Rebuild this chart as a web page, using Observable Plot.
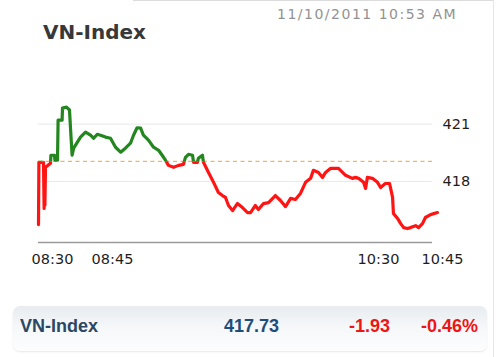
<!DOCTYPE html>
<html><head><meta charset="utf-8">
<script src="https://cdn.jsdelivr.net/npm/d3@7"></script>
<script src="https://cdn.jsdelivr.net/npm/@observablehq/plot@0.6"></script>
<style>
html,body{margin:0;padding:0;background:#fff;}
#wrap{position:relative;width:500px;height:357px;overflow:hidden;background:#fff;}
#chart{position:absolute;left:0;top:0;}
.title{position:absolute;left:43px;top:22px;font:bold 20px "DejaVu Sans";line-height:20px;color:#383838;white-space:nowrap;}
.stamp{position:absolute;left:277px;top:7px;font:14px "DejaVu Sans";line-height:14px;letter-spacing:1.5px;color:#929292;white-space:nowrap;}
.topline{position:absolute;left:133px;top:0;width:360px;height:1px;background:#dcdcdc}
.rightline{position:absolute;left:493px;top:0;width:1px;height:357px;background:#e6e6e6}
.footer{position:absolute;left:13px;top:306px;width:474px;height:45px;border-radius:7px;background:linear-gradient(#e8ecf0,#f5f7f9 45%,#fdfdfe);box-shadow:0 1px 2px rgba(0,0,0,0.10)}
.footer span{position:absolute;top:10px;font:bold 18px "Liberation Sans";line-height:20px;white-space:nowrap;}
</style>
</head><body>
<div id="wrap">
  <div class="topline"></div>
  <div class="rightline"></div>
  <div id="chart"></div>
  <div class="title" id="title"></div>
  <div class="stamp" id="stamp"></div>
  <div class="footer" id="footer"></div>
</div>
<script>
// ---- data ----
const indexName = "VN-Index";
const timestamp = "11/10/2011 10:53 AM";
// time of day in minutes since midnight
const times = [506.5,506.6,507.75,507.9,508.0,508.1,508.25,509.5,509.6,510.5,510.6,511.25,511.4,512.4,512.5,513.5,514.25,514.5,514.9,515.3,517.0,518.25,519.5,520.3,521.2,522.0,523.25,524.5,526.2,528.2,530.1,532.1,533.3,534.7,536.1,537.2,539.2,541.2,543.2,544.6,545.9,547.1,549.1,551.1,553.0,553.8,555.0,556.6,557.0,558.5,558.9,560.5,560.9,562.9,564.9,566.8,568.4,569.6,570.8,572.4,574.3,576.3,578.3,579.5,581.4,582.6,584.6,586.6,589.3,591.3,593.3,595.3,597.2,599.2,601.2,603.2,604.3,606.3,607.9,609.1,611.0,614.2,617.0,619.7,620.9,622.1,624.1,624.9,625.6,627.6,629.6,630.5,631.6,632.6,633.3,633.5,634.5,635.2,635.9,636.8,637.5,638.7,639.4,640.3,641.0,642.2,643.8];
const values = [415.74,419.00,419.00,416.58,417.00,416.74,418.74,418.95,419.37,419.37,419.11,419.11,421.21,421.21,421.84,421.89,421.74,420.79,419.37,419.74,420.32,420.58,420.42,420.26,420.47,420.42,420.32,420.26,419.79,419.53,419.74,420.00,420.42,420.81,420.79,420.42,420.16,419.79,419.63,419.37,419.11,418.84,418.74,418.84,418.89,419.26,419.42,419.37,419.00,419.00,419.21,419.37,419.00,418.47,417.95,417.42,417.26,417.16,416.74,416.47,416.84,416.63,416.37,416.37,416.74,416.53,416.84,416.89,417.26,417.00,416.68,417.11,417.05,417.37,417.95,418.16,418.58,418.47,418.21,418.47,418.68,418.68,418.32,418.16,418.21,418.16,417.95,417.63,418.21,418.16,417.95,417.68,417.89,417.89,417.16,416.32,416.05,415.79,415.58,415.53,415.58,415.68,415.58,415.79,416.11,416.26,416.37];
const prevClose = 419.05;
const xTicks = [510, 525, 630, 645];      // 08:30, 08:45, 10:30, 10:45
const yTicks = [421, 418];
const yDomain = [414.8, 422.5];
const summaryLabels = ["VN-Index", "417.73", "-1.93", "-0.46%"];

// ---- build ----
const data = times.map((t, i) => ({t, v: values[i]}));
const fmt = m => String(Math.floor(m / 60)).padStart(2, "0") + ":" + String(Math.round(m % 60)).padStart(2, "0");

document.getElementById("title").textContent = indexName;
document.getElementById("stamp").textContent = timestamp;

const W = 500, H = 290;
const plot = Plot.plot({
  width: W, height: H,
  marginLeft: 38, marginRight: 68, marginTop: 90, marginBottom: 48,
  style: {fontFamily: "DejaVu Sans", fontSize: "14.5px", color: "#1e1e1e", background: "transparent", overflow: "visible"},
  x: {type: "linear", domain: xTicks, range: [52, 112, 378, 442], ticks: xTicks, tickFormat: fmt, tickSize: 0, tickPadding: 11, label: null},
  y: {domain: yDomain, range: [242, 95], ticks: yTicks, tickSize: 0, tickPadding: 10, label: null, axis: "right", grid: true},
  marks: [
    Plot.ruleY([prevClose], {stroke: "#f4b266", strokeWidth: 1.3, strokeDasharray: "4,3.5"}),
    Plot.ruleY([yDomain[0]], {stroke: "#9a9a9a", strokeWidth: 1.6}),
    Plot.line(data, {x: "t", y: "v", stroke: "#23861f", strokeWidth: 3.2}),
    Plot.line(data, {x: "t", y: "v", stroke: "#ff1414", strokeWidth: 3.2})
  ]
});
document.getElementById("chart").appendChild(plot);

const svgEl = plot.tagName.toLowerCase() === "svg" ? plot : plot.querySelector("svg");
const yRef = plot.scale("y").apply(prevClose);
const svg = d3.select(svgEl);
const defs = svg.insert("defs", ":first-child");
defs.append("clipPath").attr("id", "clipUp").append("rect")
  .attr("x", 0).attr("y", -50).attr("width", W).attr("height", yRef + 50);
defs.append("clipPath").attr("id", "clipDown").append("rect")
  .attr("x", 0).attr("y", yRef).attr("width", W).attr("height", H - yRef + 50);
const lineGroups = svgEl.querySelectorAll('g[aria-label="line"]');
lineGroups[0].setAttribute("clip-path", "url(#clipUp)");
lineGroups[1].setAttribute("clip-path", "url(#clipDown)");

// footer summary
const footer = document.getElementById("footer");
const footerStyle = [
  {left: "7px", color: "#2c4763"},
  {left: "211px", color: "#1d4e7b"},
  {left: "336px", color: "#ee1515"},
  {left: "408px", color: "#ee1515"}
];
summaryLabels.forEach((s, i) => {
  const sp = document.createElement("span");
  sp.textContent = s;
  sp.style.left = footerStyle[i].left;
  sp.style.color = footerStyle[i].color;
  footer.appendChild(sp);
});
</script>
</body></html>
